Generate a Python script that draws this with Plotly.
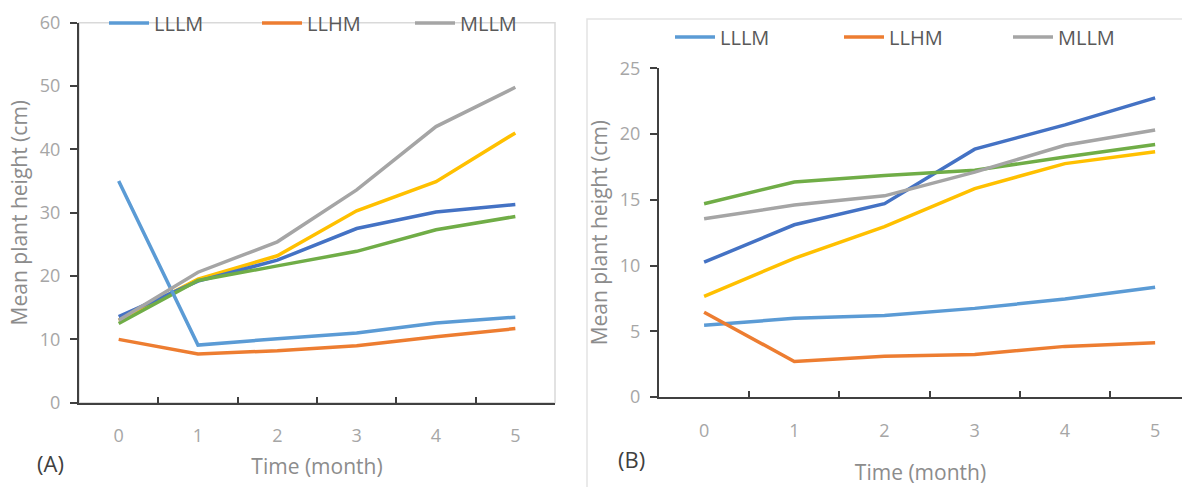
import plotly.graph_objects as go

months = ["0", "1", "2", "3", "4", "5"]
legend_names = ["LLLM", "LLHM", "MLLM"]
hidden_names = ["Series 4", "Series 5", "Series 6"]

# Panel A values (cm)
a_lllm = [35.0, 9.1, 10.1, 11.0, 12.6, 13.5]
a_llhm = [10.0, 7.7, 8.2, 9.0, 10.4, 11.7]
a_mllm = [13.0, 20.6, 25.4, 33.6, 43.6, 49.8]
a_yellow = [13.0, 19.5, 23.2, 30.3, 34.9, 42.6]
a_darkblue = [13.6, 19.2, 22.5, 27.5, 30.1, 31.3]
a_green = [12.5, 19.3, 21.6, 23.9, 27.3, 29.4]

# Panel B values (cm)
b_lllm = [5.45, 5.98, 6.2, 6.74, 7.45, 8.35]
b_llhm = [6.45, 2.7, 3.1, 3.24, 3.85, 4.13]
b_mllm = [13.55, 14.6, 15.3, 17.1, 19.15, 20.3]
b_yellow = [7.65, 10.55, 12.95, 15.85, 17.75, 18.65]
b_darkblue = [10.25, 13.1, 14.7, 18.85, 20.7, 22.75]
b_green = [14.7, 16.35, 16.85, 17.25, 18.25, 19.2]

colors = ["#5B9BD5", "#ED7D31", "#A5A5A5", "#FFC000", "#4472C4", "#70AD47"]

FONT = "Open Sans"
W, H = 1182, 487

fig = go.Figure()

panels = [
    ("x", "y", "legend", [a_lllm, a_llhm, a_mllm, a_yellow, a_darkblue, a_green]),
    ("x2", "y2", "legend2", [b_lllm, b_llhm, b_mllm, b_yellow, b_darkblue, b_green]),
]
names = legend_names + hidden_names
for xa, ya, lg, series in panels:
    order = [3, 4, 5, 0, 1, 2]
    for i in order:
        fig.add_trace(go.Scatter(
            x=months, y=series[i], mode="lines", name=names[i],
            line=dict(color=colors[i], width=3.5),
            xaxis=xa, yaxis=ya, legend=lg,
            showlegend=(i < 3), legendrank=i + 1,
        ))

axis_line = "#404040"
tick_font = dict(family=FONT, size=18, color="#A6A6A6")
title_font = dict(family=FONT, size=21, color="#8C8C8C")

xcommon = dict(type="category", showgrid=False, zeroline=False, showline=True,
               linecolor=axis_line, linewidth=2, ticks="inside", ticklen=6,
               tickwidth=1.5, tickcolor=axis_line, tickson="boundaries",
               tickfont=tick_font, ticklabelstandoff=16, automargin=False)
ycommon = dict(showgrid=False, zeroline=False, showline=True, linecolor=axis_line,
               linewidth=2, ticks="outside", ticklen=7, tickwidth=1.5,
               tickcolor=axis_line, tickfont=tick_font, ticklabelstandoff=6,
               automargin=False)

fig.update_layout(
    template="none",
    width=W, height=H,
    margin=dict(l=0, r=0, t=0, b=0, autoexpand=False),
    paper_bgcolor="white", plot_bgcolor="white",
    font=dict(family=FONT),
    xaxis=dict(xcommon, domain=[79 / W, 555 / W], range=[-0.5, 5.5], anchor="y",
               title=dict(text="Time (month)", font=title_font, standoff=13)),
    yaxis=dict(ycommon, domain=[(H - 402.7) / H, (H - 22.7) / H], range=[0, 60],
               dtick=10, anchor="x",
               title=dict(text="Mean plant height (cm)", font=title_font, standoff=6)),
    xaxis2=dict(xcommon, domain=[659 / W, 1.0], range=[-0.5, 5.298], anchor="y2",
                title=dict(text="Time (month)", font=title_font, standoff=25)),
    yaxis2=dict(ycommon, domain=[(H - 397) / H, (H - 68.3) / H], range=[0, 25],
                dtick=5, anchor="x2",
                title=dict(text="Mean plant height (cm)", font=title_font, standoff=6)),
    legend=dict(orientation="h", x=104 / W, xanchor="left", y=1 - 23 / H, yanchor="middle",
                bgcolor="rgba(0,0,0,0)", font=dict(family=FONT, size=20, color="#595959"),
                entrywidth=98, entrywidthmode="pixels", itemwidth=40, traceorder="normal"),
    legend2=dict(orientation="h", x=670 / W, xanchor="left", y=1 - 37 / H, yanchor="middle",
                 bgcolor="rgba(0,0,0,0)", font=dict(family=FONT, size=20, color="#595959"),
                 entrywidth=114, entrywidthmode="pixels", itemwidth=40, traceorder="normal"),
    showlegend=True,
    hovermode=False,
)

fig.add_shape(type="rect", xref="x domain", yref="y domain", x0=0, x1=1, y0=0, y1=1,
              line=dict(color="#D9D9D9", width=1.5), layer="below")
fig.add_shape(type="rect", xref="paper", yref="paper", x0=587 / W, x1=1.01,
              y0=-0.01, y1=1 - 19 / H, line=dict(color="#E3E3E3", width=1.5), layer="below")

fig.add_annotation(text="(A)", xref="paper", yref="paper", x=50 / W, y=1 - 463 / H,
                   xanchor="center", yanchor="middle", showarrow=False,
                   font=dict(family=FONT, size=22, color="#404040"))
fig.add_annotation(text="(B)", xref="paper", yref="paper", x=631 / W, y=1 - 459 / H,
                   xanchor="center", yanchor="middle", showarrow=False,
                   font=dict(family=FONT, size=22, color="#404040"))

fig.write_html("out.html", config={"displayModeBar": False},
               post_script="document.body.style.margin='0';document.body.style.overflow='hidden';")
